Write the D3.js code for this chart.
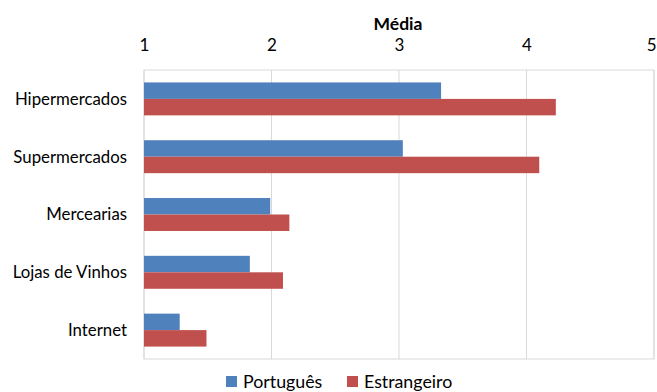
<!DOCTYPE html>
<html>
<head>
<meta charset="utf-8">
<script src="https://cdn.jsdelivr.net/npm/d3@7"></script>
<style>
  html, body { margin: 0; padding: 0; background: #fff; }
  svg { display: block; }
  text { font-family: Lato, "Open Sans", sans-serif; fill: #000; }
</style>
</head>
<body>
<svg id="chart" width="657" height="392"></svg>
<script>
// Store types and average scores per respondent group
const categories = ["Hipermercados", "Supermercados", "Mercearias", "Lojas de Vinhos", "Internet"];
const seriesNames = ["Português", "Estrangeiro"];
const portugues = [3.33, 3.03, 1.99, 1.83, 1.28];
const estrangeiro = [4.23, 4.10, 2.14, 2.09, 1.49];
const tickValues = [1, 2, 3, 4, 5];
const axisTitle = "Média";
const colors = ["#4F81BD", "#C0504D"];

const svg = d3.select("#chart");
const margin = { left: 144, right: 3, top: 70, bottom: 33 };
const W = 657, H = 392;

const x = d3.scaleLinear().domain([1, 5]).range([margin.left, W - margin.right]);
const y = d3.scaleBand().domain(categories).range([margin.top, H - margin.bottom])
  .paddingInner(0.43).paddingOuter(0.215);
const ySub = d3.scaleBand().domain(seriesNames).range([0, y.bandwidth()]);

// vertical gridlines
svg.append("g").selectAll("line").data(tickValues).join("line")
  .attr("x1", d => x(d)).attr("x2", d => x(d))
  .attr("y1", margin.top).attr("y2", H - margin.bottom)
  .attr("stroke", "#d9d9d9").attr("stroke-width", 1);

// plot frame
svg.append("rect")
  .attr("x", margin.left).attr("y", margin.top)
  .attr("width", W - margin.right - margin.left)
  .attr("height", H - margin.bottom - margin.top)
  .attr("fill", "none").attr("stroke", "#d9d9d9");

// top axis labels (the last one is kept inside the right edge)
const axis = d3.axisTop(x).tickValues(tickValues).tickSize(0).tickPadding(0).tickFormat(d3.format("d"));
const gAxis = svg.append("g").attr("transform", "translate(0,51)").call(axis);
gAxis.select(".domain").remove();
gAxis.selectAll("text").style("font-family", "Lato, 'Open Sans', sans-serif").attr("font-size", 17).attr("fill", "#000");
gAxis.selectAll(".tick").filter(d => d === 5).select("text").attr("text-anchor", "end").attr("x", 2);

svg.append("text").attr("x", x(3) - 1).attr("y", 30).attr("text-anchor", "middle")
  .attr("font-size", 17.5).attr("font-weight", "bold").text(axisTitle);

// bars
const data = categories.map((c, i) => ({ c, vals: [portugues[i], estrangeiro[i]] }));
const groups = svg.append("g").selectAll("g").data(data).join("g")
  .attr("transform", d => `translate(0,${y(d.c)})`);
groups.selectAll("rect").data(d => d.vals.map((v, k) => ({ v, k })))
  .join("rect")
  .attr("x", x(1))
  .attr("y", d => ySub(seriesNames[d.k]))
  .attr("width", d => x(d.v) - x(1))
  .attr("height", ySub.bandwidth())
  .attr("fill", d => colors[d.k]);

// category labels
svg.append("g").selectAll("text").data(categories).join("text")
  .attr("x", margin.left - 17)
  .attr("y", d => y(d) + y.bandwidth() / 2)
  .attr("dy", "0.35em")
  .attr("text-anchor", "end")
  .attr("font-size", 16.8)
  .text(d => d);

// legend
const legend = svg.append("g");
const legendItems = [{ x: 226, name: seriesNames[0], color: colors[0] }, { x: 347, name: seriesNames[1], color: colors[1] }];
legendItems.forEach(it => {
  legend.append("rect").attr("x", it.x).attr("y", 376).attr("width", 11).attr("height", 11).attr("fill", it.color);
  legend.append("text").attr("x", it.x + 17).attr("y", 381).attr("dy", "0.38em")
    .attr("font-size", 17.8).text(it.name);
});
</script>
</body>
</html>
